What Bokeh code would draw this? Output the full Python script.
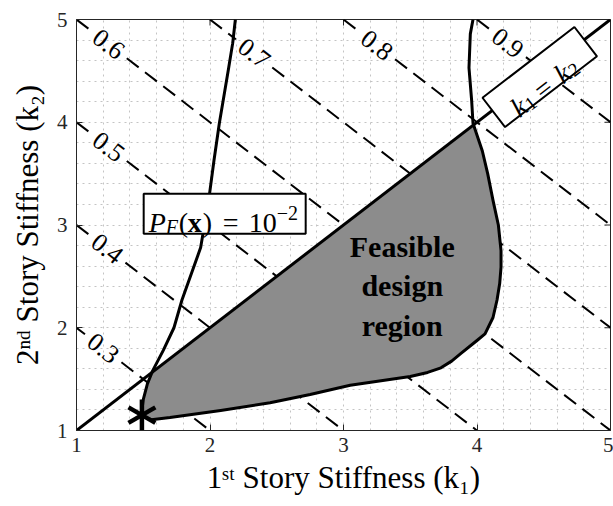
import numpy as np
from bokeh.plotting import figure
from bokeh.models import (Range1d, SingleIntervalTicker, ColumnDataSource,
                          LabelSet, Label)
from bokeh.core.properties import value
from bokeh.embed import file_html
from bokeh.resources import INLINE

# ---- data -------------------------------------------------------------
k_limits = [1, 5]
k_ticks = [1, 2, 3, 4, 5]

# total-cost contours: each dashed line is k1 + k2 = const
cost_levels = [0.3, 0.4, 0.5, 0.6, 0.7, 0.8, 0.9]
cost_sums = [3, 4, 5, 6, 7, 8, 9]
cost_label_k1 = [1.20, 1.23, 1.24, 1.24, 2.33, 3.25, 4.23]

# failure-probability contour P_F(x) = 1e-2
pf_k1 = [2.19, 2.17, 2.14, 2.07, 2.03, 1.99, 1.93, 1.79, 1.73, 1.65, 1.57, 1.53,
         1.50, 1.49, 1.51, 1.56, 1.70, 2.08, 2.45, 2.75, 3.05, 3.50, 3.63, 3.73,
         3.81, 3.88, 4.00, 4.06, 4.12, 4.15, 4.17, 4.18, 4.18, 4.16, 4.12, 4.08,
         4.04, 3.97, 3.96, 3.94, 3.95, 3.97]
pf_k2 = [5.00, 4.77, 4.53, 3.99, 3.63, 3.24, 2.78, 2.27, 2.00, 1.78, 1.58, 1.45,
         1.30, 1.20, 1.13, 1.105, 1.126, 1.195, 1.27, 1.35, 1.44, 1.525, 1.565, 1.61,
         1.675, 1.75, 1.876, 1.94, 2.10, 2.27, 2.43, 2.59, 2.75, 3.00, 3.24, 3.50,
         3.72, 3.99, 4.21, 4.53, 4.86, 5.00]

# optimal design
opt_k1 = [1.49]
opt_k2 = [1.15]

FONT = "Liberation Serif"
INK = "black"
AXIS_INK = "#262626"

W, H = 613, 506
BORDER_L, BORDER_R, BORDER_T, BORDER_B = 76, 3, 19, 76
FRAME_W = W - BORDER_L - BORDER_R
FRAME_H = H - BORDER_T - BORDER_B
px_per_k1 = FRAME_W / (k_limits[1] - k_limits[0])
px_per_k2 = FRAME_H / (k_limits[1] - k_limits[0])

# ---- figure -----------------------------------------------------------
p = figure(width=W, height=H, output_backend="svg", toolbar_location=None,
           x_range=Range1d(*k_limits), y_range=Range1d(*k_limits),
           min_border_left=BORDER_L, min_border_right=BORDER_R,
           min_border_top=BORDER_T, min_border_bottom=BORDER_B)
p.background_fill_color = "white"
p.border_fill_color = "white"
p.outline_line_color = AXIS_INK
p.outline_line_width = 1

for grid in (p.xgrid, p.ygrid):
    grid.ticker = SingleIntervalTicker(interval=0.2, num_minor_ticks=0)
    grid.grid_line_color = "#c4c4c4"
    grid.grid_line_dash = "2 4"
    grid.grid_line_width = 1

for ax in (p.xaxis[0], p.yaxis[0]):
    ax.ticker = SingleIntervalTicker(interval=1, num_minor_ticks=0)
    ax.major_tick_in = 6
    ax.major_tick_out = 0
    ax.minor_tick_line_color = None
    ax.axis_line_color = AXIS_INK
    ax.major_tick_line_color = AXIS_INK
    ax.major_label_text_font = FONT
    ax.major_label_text_color = AXIS_INK
    ax.major_label_text_font_size = "21px"
    ax.axis_label_text_font = FONT
    ax.axis_label_text_font_style = "normal"
    ax.axis_label_text_font_size = "31px"
    ax.axis_label_text_color = INK

p.xaxis.major_label_standoff = 7
p.yaxis.major_label_standoff = 9
p.xaxis.axis_label = "1\u02e2\u1d57 Story Stiffness (k\u2081)"
p.yaxis.axis_label = "2\u207f\u1d48 Story Stiffness (k\u2082)"
p.xaxis.axis_label_standoff = 5
p.yaxis.axis_label_standoff = 9

# inward tick marks on the right and top edges (outer half is clipped by the frame)
p.scatter([k_limits[1]] * len(k_ticks), k_ticks, marker="dash", size=12,
          line_color=AXIS_INK, line_width=1)
p.scatter(k_ticks, [k_limits[1]] * len(k_ticks), marker="dash", size=12,
          angle=np.pi / 2, line_color=AXIS_INK, line_width=1)

# ---- cost contours (dashed, broken where labelled) --------------------
along_px = np.hypot(px_per_k1, px_per_k2)      # screen length per unit of k1
half_gap = 23.0 / along_px
xs, ys = [], []
for s, c in zip(cost_sums, cost_label_k1):
    a = max(k_limits[0], s - k_limits[1])
    b = min(k_limits[1], s - k_limits[0])
    for u, v in ((a, c - half_gap), (c + half_gap, b)):
        if v > u:
            xs.append([u, v])
            ys.append([s - u, s - v])
p.multi_line(xs, ys, line_color=INK, line_width=2, line_dash="15 8")

# ---- feasible region: inside P_F contour and below k1 = k2 -------------
k1a = np.array(pf_k1)
k2a = np.array(pf_k2)
d = k2a - k1a
poly_x, poly_y = [], []
for i in range(len(d)):
    if i > 0 and np.sign(d[i]) != np.sign(d[i - 1]):
        t = d[i - 1] / (d[i - 1] - d[i])
        cx = k1a[i - 1] + t * (k1a[i] - k1a[i - 1])
        poly_x.append(cx)
        poly_y.append(cx)
    if d[i] <= 0:
        poly_x.append(k1a[i])
        poly_y.append(k2a[i])
p.patch(poly_x, poly_y, fill_color="#8c8c8c", line_color=None)

# ---- P_F contour and k1 = k2 line ---------------------------------------
p.line(pf_k1, pf_k2, line_color=INK, line_width=3, line_join="round")
p.line(k_limits, k_limits, line_color=INK, line_width=3)

# ---- optimal design marker (six-armed asterisk) ------------------------
arm_angles = [np.pi / 2, np.pi / 6, -np.pi / 6]
p.scatter(np.repeat(opt_k1, 3), np.repeat(opt_k2, 3), marker="dash", size=31,
          angle=arm_angles, line_color=INK, line_width=4.5)

# ---- contour labels --------------------------------------------------------
line_angle = np.arctan2(px_per_k2, px_per_k1)
lab_src = ColumnDataSource(dict(
    x=cost_label_k1,
    y=[s - x for s, x in zip(cost_sums, cost_label_k1)],
    text=[f"{c:.1f}" for c in cost_levels],
))
p.add_layout(LabelSet(x="x", y="y", text="text", source=lab_src, angle=-line_angle,
                      text_font=value(FONT), text_font_size=value("26px"),
                      text_align="center", text_baseline="middle", text_color=INK))

# ---- region caption ----------------------------------------------------------
p.text(x=[3.44], y=[2.41], text=["Feasible\ndesign\nregion"],
       text_font=value(FONT), text_font_style="bold", text_font_size="30px",
       text_align="center", text_baseline="middle", text_line_height=1.2,
       text_color=INK)


def place_pieces(x, y, pieces, angle=0.0):
    ca, sa = np.cos(angle), np.sin(angle)
    for text, size, style, along, across in pieces:
        p.add_layout(Label(x=x, y=y, text=text, angle=angle,
                           x_offset=along * ca - across * sa,
                           y_offset=along * sa + across * ca,
                           text_font=FONT, text_font_size=f"{size}px",
                           text_font_style=style, text_color=INK,
                           text_align="left", text_baseline="alphabetic"))


# boxed annotation: P_F(x) = 10^-2
pf_box = (2.11, 3.11)
p.rect(x=[pf_box[0]], y=[pf_box[1]], width=162, height=40, width_units="screen",
       height_units="screen", fill_color="white", line_color=INK, line_width=2)
place_pieces(*pf_box, [
    ("P", 28, "italic", -76, -9),
    ("F", 20, "italic", -59, -13),
    ("(", 28, "normal", -46, -9),
    ("x", 28, "bold", -37, -9),
    (")", 28, "normal", -22, -9),
    ("=", 28, "normal", -2, -9),
    ("10", 28, "normal", 24, -9),
    ("\u22122", 20, "normal", 52, 1),
])

# boxed annotation along the diagonal: k1 = k2
diag_box = (4.47, 4.44)
p.rect(x=[diag_box[0]], y=[diag_box[1]], width=116, height=37, width_units="screen",
       height_units="screen", angle=line_angle, fill_color="white",
       line_color=INK, line_width=2)
place_pieces(*diag_box, [
    ("k", 28, "italic", -41, -11),
    ("1", 19, "normal", -28, -15),
    ("=", 28, "normal", -12, -11),
    ("k", 28, "italic", 14, -11),
    ("2", 19, "normal", 27, -15),
], angle=line_angle)

open("out.html", "w").write(file_html(p, INLINE))
